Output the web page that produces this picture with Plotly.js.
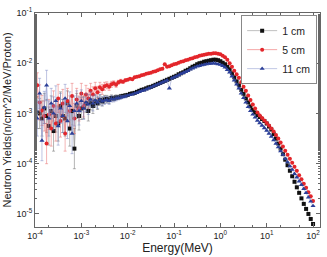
<!DOCTYPE html>
<html>
<head>
<meta charset="utf-8">
<script src="https://cdn.plot.ly/plotly-3.0.1.min.js"></script>
<style>html,body{margin:0;padding:0;background:#fff;}#chart{width:327px;height:257px;}</style>
</head>
<body>
<div id="chart"></div>
<script>
// log10(Energy / MeV) bin centres
const logEnergy = [
-4.00,-3.95,-3.90,-3.85,-3.80,-3.75,-3.70,-3.65,-3.60,-3.55,
-3.50,-3.45,-3.40,-3.35,-3.30,-3.25,-3.20,-3.15,-3.10,-3.05,
-3.00,-2.95,-2.90,-2.85,-2.80,-2.75,-2.70,-2.65,-2.60,-2.55,
-2.50,-2.45,-2.40,-2.35,-2.30,-2.25,-2.20,-2.15,-2.10,-2.05,
-2.00,-1.95,-1.90,-1.85,-1.80,-1.75,-1.70,-1.65,-1.60,-1.55,
-1.50,-1.45,-1.40,-1.35,-1.30,-1.25,-1.20,-1.15,-1.10,-1.05,
-1.00,-0.95,-0.90,-0.85,-0.80,-0.75,-0.70,-0.65,-0.60,-0.55,
-0.50,-0.45,-0.40,-0.35,-0.30,-0.25,-0.20,-0.15,-0.10,-0.05,
0.00,0.05,0.10,0.15,0.20,0.25,0.30,0.35,0.40,0.45,
0.50,0.55,0.60,0.65,0.70,0.75,0.80,0.85,0.90,0.95,
1.00,1.05,1.10,1.15,1.20,1.25,1.30,1.35,1.40,1.45,
1.50,1.55,1.60,1.65,1.70,1.75,1.80,1.85,1.90,1.95,
2.00];

// log10(yield) for each depth
const logYield1cm = [
-2.68,-2.98,-3.00,-3.10,-2.90,-3.05,-3.25,-2.95,-3.35,-3.05,
-3.20,-2.85,-3.05,-3.10,-2.80,-3.30,-2.95,-3.70,-2.85,-3.05,
-2.90,-2.88,-2.80,-2.95,-2.78,-2.85,-2.76,-2.80,-2.73,-2.76,
-2.72,-2.71,-2.73,-2.69,-2.70,-2.68,-2.68,-2.66,-2.65,-2.64,
-2.63,-2.61,-2.60,-2.59,-2.57,-2.55,-2.53,-2.52,-2.50,-2.48,
-2.47,-2.45,-2.43,-2.41,-2.39,-2.37,-2.35,-2.33,-2.31,-2.29,
-2.27,-2.25,-2.22,-2.20,-2.18,-2.15,-2.13,-2.10,-2.07,-2.05,
-2.02,-2.00,-1.99,-1.97,-1.96,-1.95,-1.94,-1.93,-1.93,-1.94,
-1.96,-1.99,-2.02,-2.07,-2.12,-2.20,-2.28,-2.36,-2.44,-2.53,
-2.61,-2.70,-2.78,-2.86,-2.93,-2.98,-3.03,-3.07,-3.11,-3.15,
-3.20,-3.26,-3.32,-3.41,-3.50,-3.60,-3.70,-3.81,-3.92,-4.03,
-4.14,-4.25,-4.36,-4.47,-4.58,-4.69,-4.80,-4.90,-5.00,-5.10,
-5.20];

const logYield5cm = [
-2.18,-2.44,-2.78,-2.94,-3.05,-3.60,-3.02,-3.30,-2.85,-3.20,
-2.70,-3.15,-2.80,-3.40,-2.75,-2.95,-2.65,-3.10,-2.72,-2.90,
-2.60,-2.85,-2.62,-2.70,-2.55,-2.62,-2.50,-2.58,-2.48,-2.52,
-2.46,-2.44,-2.47,-2.42,-2.40,-2.43,-2.38,-2.36,-2.37,-2.34,
-2.33,-2.31,-2.32,-2.28,-2.27,-2.26,-2.24,-2.23,-2.21,-2.20,
-2.19,-2.17,-2.16,-2.14,-2.12,-2.11,-2.02,-2.07,-2.06,-2.04,
-2.02,-2.01,-1.99,-1.97,-1.96,-1.94,-1.93,-1.91,-1.90,-1.88,
-1.87,-1.85,-1.84,-1.83,-1.82,-1.81,-1.81,-1.80,-1.80,-1.81,
-1.82,-1.85,-1.88,-1.93,-2.00,-2.07,-2.15,-2.22,-2.29,-2.38,
-2.47,-2.55,-2.64,-2.73,-2.82,-2.90,-2.98,-3.04,-3.09,-3.14,
-3.19,-3.24,-3.30,-3.36,-3.43,-3.50,-3.58,-3.66,-3.74,-3.82,
-3.90,-3.98,-4.06,-4.14,-4.23,-4.31,-4.40,-4.48,-4.57,-4.65,
-4.74];

const logYield11cm = [
-2.95,-3.10,-2.60,-3.54,-2.88,-2.44,-3.10,-2.80,-3.00,-2.75,
-3.25,-2.90,-3.05,-2.70,-3.15,-2.85,-3.40,-2.95,-2.80,-2.95,
-2.75,-2.90,-2.78,-2.82,-2.72,-2.80,-2.74,-2.78,-2.72,-2.76,
-2.74,-2.73,-2.75,-2.71,-2.72,-2.70,-2.69,-2.68,-2.67,-2.66,
-2.64,-2.63,-2.62,-2.60,-2.59,-2.57,-2.55,-2.54,-2.52,-2.50,
-2.48,-2.46,-2.44,-2.42,-2.40,-2.38,-2.36,-2.34,-2.50,-2.30,
-2.28,-2.26,-2.24,-2.21,-2.19,-2.17,-2.15,-2.12,-2.10,-2.08,
-2.06,-2.05,-2.04,-2.03,-2.02,-2.01,-2.01,-2.00,-2.01,-2.02,
-2.03,-2.05,-2.08,-2.13,-2.18,-2.26,-2.34,-2.42,-2.50,-2.60,
-2.69,-2.78,-2.87,-2.95,-3.02,-3.08,-3.14,-3.19,-3.24,-3.29,
-3.34,-3.40,-3.46,-3.53,-3.60,-3.67,-3.75,-3.82,-3.90,-3.97,
-4.05,-4.12,-4.20,-4.27,-4.35,-4.42,-4.50,-4.58,-4.67,-4.75,
-4.84];

// statistical error bars, in decades, for the first bins (rest are negligible)
const errDec1cm = [
0.30,0.32,0.30,0.35,0.30,0.33,0.38,0.30,0.40,0.32,
0.35,0.28,0.33,0.35,0.25,0.35,0.28,0.40,0.25,0.28,
0.22,0.22,0.18,0.20,0.15,0.15,0.12,0.12,0.10,0.09,
0.08,0.07,0.07,0.06,0.05,0.05,0.04,0.04,0.03,0.03];
const errDec5cm = [
0.30,0.25,0.35,0.30,0.30,0.40,0.30,0.35,0.30,0.35,
0.28,0.32,0.28,0.35,0.25,0.30,0.25,0.30,0.22,0.25,
0.20,0.22,0.18,0.20,0.15,0.15,0.12,0.12,0.10,0.10,
0.08,0.07,0.07,0.06,0.05,0.05,0.04,0.04,0.03,0.03];
const errDec11cm = [
0.35,0.35,0.30,0.40,0.32,0.30,0.35,0.30,0.33,0.30,
0.38,0.30,0.33,0.28,0.35,0.28,0.40,0.30,0.25,0.28,
0.22,0.22,0.18,0.20,0.15,0.15,0.12,0.12,0.10,0.09,
0.08,0.07,0.07,0.06,0.05,0.05,0.04,0.04,0.03,0.03];

const seriesNames = ['1 cm', '5 cm', '11 cm'];
const tickExpX = [-4, -3, -2, -1, 0, 1, 2];
const tickExpY = [-5, -4, -3, -2, -1];

const energy = logEnergy.map(v => Math.pow(10, v));
function build(logY, errDec) {
  const y = logY.map(v => Math.pow(10, v));
  const up = y.map((v, i) => i < errDec.length ? v * (Math.pow(10, errDec[i]) - 1) : 0);
  const dn = y.map((v, i) => i < errDec.length ? v * (1 - Math.pow(10, -errDec[i])) : 0);
  return {y, up, dn};
}
const s1 = build(logYield1cm, errDec1cm);
const s5 = build(logYield5cm, errDec5cm);
const s11 = build(logYield11cm, errDec11cm);

const styles = [
  {marker: {symbol: 'square', size: 4, color: '#111111'}, line: {color: 'rgba(150,150,150,0.6)', width: 1}, err: 'rgba(90,90,90,0.45)'},
  {marker: {symbol: 'circle', size: 4, color: '#e3262b'}, line: {color: 'rgba(240,130,130,0.7)', width: 1}, err: 'rgba(230,90,90,0.45)'},
  {marker: {symbol: 'triangle-up', size: 4.5, color: '#2b3f98'}, line: {color: 'rgba(150,160,210,0.6)', width: 1}, err: 'rgba(110,125,190,0.45)'}
];
const sets = [s1, s5, s11];
const traces = sets.map((s, k) => ({
  type: 'scatter', mode: 'lines+markers', name: seriesNames[k],
  x: energy, y: s.y,
  marker: styles[k].marker, line: styles[k].line,
  error_y: {type: 'data', symmetric: false, array: s.up, arrayminus: s.dn,
            color: styles[k].err, thickness: 1, width: 1.5}
}));

const tickFmt = e => '10<sup>' + e + '</sup>';
const axisCommon = {
  type: 'log', showline: true, linecolor: '#666', linewidth: 1, mirror: 'ticks',
  ticks: 'inside', ticklen: 4, tickcolor: '#666', showgrid: false, zeroline: false,
  tickfont: {family: 'Liberation Sans, Arial, sans-serif', size: 9, color: '#222'},
  minor: {ticks: 'inside', ticklen: 2, tickcolor: '#666', showgrid: false}
};
const layout = {
  width: 327, height: 257,
  margin: {l: 35, r: 7, t: 13, b: 30},
  paper_bgcolor: '#fff', plot_bgcolor: '#fff',
  font: {family: 'Liberation Sans, Arial, sans-serif', color: '#222'},
  showlegend: true,
  legend: {x: 0.99, y: 0.99, xanchor: 'right', yanchor: 'top',
           bordercolor: '#888', borderwidth: 1, bgcolor: '#fff',
           font: {size: 10.5, color: '#222'}, itemwidth: 30, tracegroupgap: 0},
  xaxis: Object.assign({}, axisCommon, {
    range: [-4, 2.15],
    tickmode: 'array', tickvals: tickExpX.map(e => Math.pow(10, e)), ticktext: tickExpX.map(tickFmt),
    title: {text: 'Energy(MeV)', font: {size: 12, color: '#222'}, standoff: 3}
  }),
  yaxis: Object.assign({}, axisCommon, {
    range: [-5.26, -1],
    tickmode: 'array', tickvals: tickExpY.map(e => Math.pow(10, e)), ticktext: tickExpY.map(tickFmt),
    title: {text: 'Neutron Yields(n/cm^2/MeV/Proton)', font: {size: 11, color: '#222'}, standoff: 2}
  })
};
Plotly.newPlot('chart', traces, layout, {displayModeBar: false, staticPlot: true});
</script>
</body>
</html>
